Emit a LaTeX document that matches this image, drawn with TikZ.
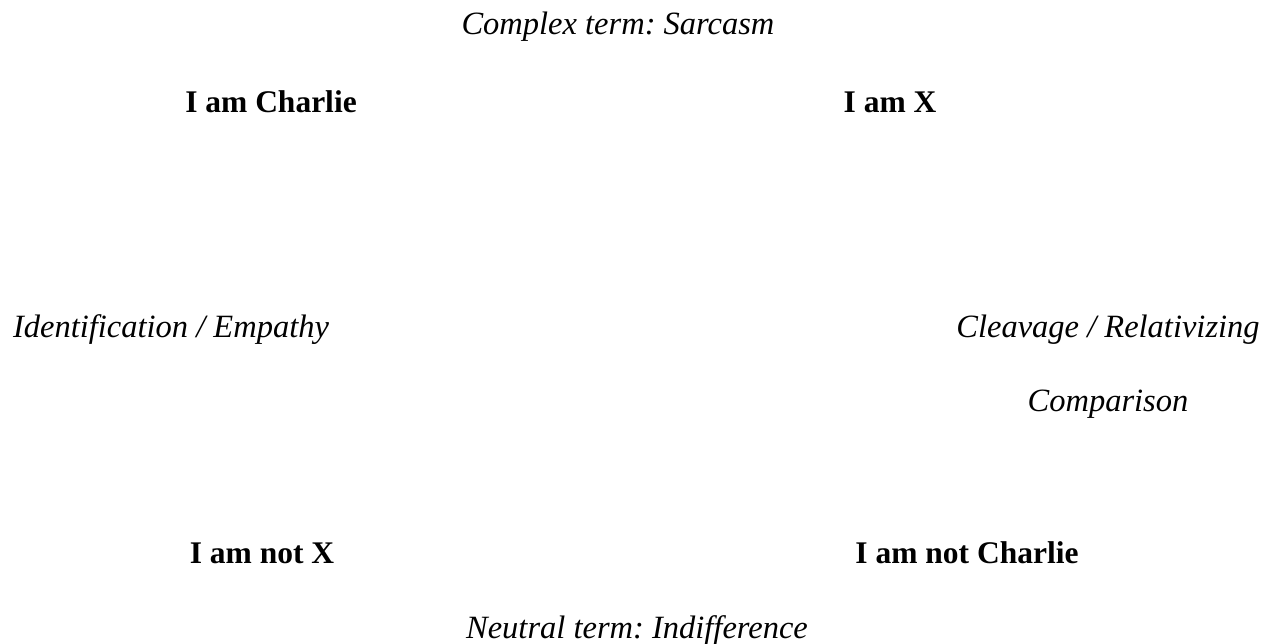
\documentclass[tikz,border=0pt]{standalone}
\usepackage{fontspec}
\setmainfont{Liberation Serif}
\frenchspacing
\begin{document}
\begin{tikzpicture}[x=1pt,y=1pt,
  lbl/.style={inner sep=0pt,anchor=base,font=\fontsize{31.5}{36}\selectfont},
  pole/.style={lbl,font=\fontsize{31.5}{36}\selectfont\bfseries},
  term/.style={lbl,font=\fontsize{32.5}{36}\selectfont\itshape}]
\useasboundingbox (0,0) rectangle (1272,644);
\node[term] (complex) at (618,609) {Complex term: Sarcasm};
\node[pole] (charlie) at (271,531) {I am Charlie};
\node[pole] (x) at (890,531) {I am X};
\node[term] (ident) at (171,306) {Identification / Empathy};
\node[term] (cleav) at (1108,306) {Cleavage / Relativizing};
\node[term] (comp) at (1108,232) {Comparison};
\node[pole] (notx) at (262,80) {I am not X};
\node[pole] (notcharlie) at (967,80) {I am not Charlie};
\node[term] (neutral) at (637,5) {Neutral term: Indifference};
\end{tikzpicture}
\end{document}
